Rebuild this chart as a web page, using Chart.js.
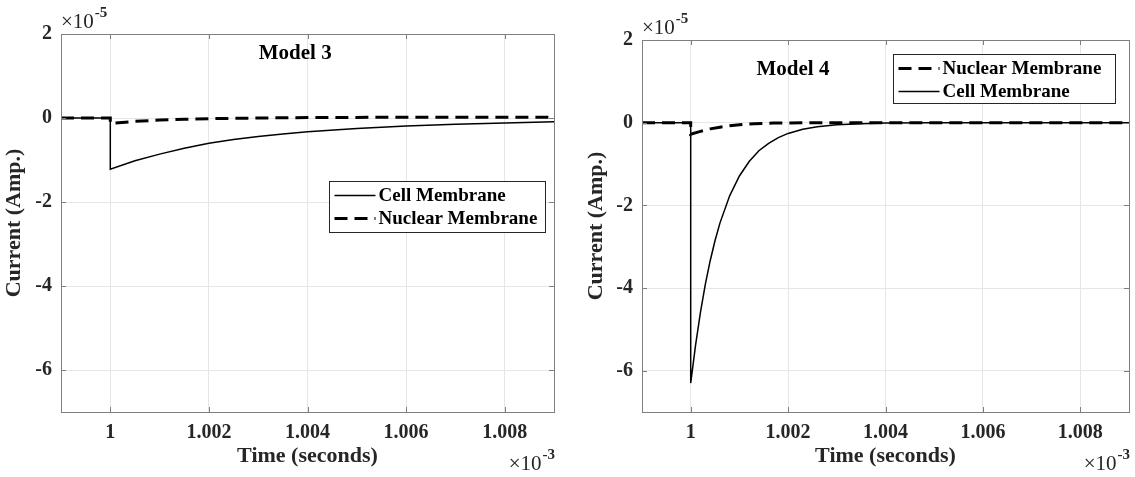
<!DOCTYPE html>
<html>
<head>
<meta charset="utf-8">
<script src="https://cdn.jsdelivr.net/npm/chart.js@4.4.1/dist/chart.umd.min.js"></script>
<style>
    html, body { margin: 0; padding: 0; background: #ffffff; }
    #wrap { position: relative; width: 1135px; height: 477px; overflow: hidden; }
    .pane { position: absolute; top: 0; height: 477px; }
    #left { left: 0; width: 567px; }
    #right { left: 567px; width: 568px; }
</style>
</head>
<body>
<div id="wrap">
    <div class="pane" id="left"><canvas id="model3" width="567" height="477"></canvas></div>
    <div class="pane" id="right"><canvas id="model4" width="568" height="477"></canvas></div>
</div>
<script>
// time axis in units of 1e-3 s, current in units of 1e-5 A
const xTicks = [1, 1.002, 1.004, 1.006, 1.008];
const xTickLabels = ['1', '1.002', '1.004', '1.006', '1.008'];
const yTicks = [2, 0, -2, -4, -6];
const yTickLabels = ['2', '0', '-2', '-4', '-6'];

// Model 3
const m3CellTime = [0.999, 1.0, 1.0, 1.0005, 1.001, 1.0015, 1.002, 1.0025, 1.003, 1.0035, 1.004, 1.005, 1.006, 1.007, 1.008, 1.009];
const m3CellCurrent = [0, 0, -1.22, -1.02, -0.86, -0.72, -0.60, -0.51, -0.44, -0.38, -0.33, -0.25, -0.19, -0.15, -0.12, -0.09];
const m3NucTime = [0.999, 1.0, 1.0, 1.0005, 1.001, 1.0015, 1.002, 1.003, 1.004, 1.006, 1.009];
const m3NucCurrent = [0, 0, -0.13, -0.08, -0.05, -0.03, -0.015, 0, 0.01, 0.02, 0.02];

// Model 4
const m4CellTime = [0.999, 1.0, 1.0, 1.0001, 1.0002, 1.0003, 1.0004, 1.0005, 1.0006, 1.0008, 1.001, 1.0012, 1.0014, 1.0016, 1.0018, 1.002, 1.0023, 1.0026, 1.003, 1.0035, 1.004, 1.005, 1.009];
const m4CellCurrent = [0, 0, -6.30, -5.38, -4.59, -3.91, -3.34, -2.85, -2.43, -1.77, -1.29, -0.94, -0.68, -0.50, -0.36, -0.26, -0.16, -0.10, -0.05, -0.025, -0.01, 0, 0];
const m4NucTime = [0.999, 1.0, 1.0, 1.0002, 1.0004, 1.0006, 1.0008, 1.001, 1.0013, 1.0017, 1.0025, 1.009];
const m4NucCurrent = [0, 0, -0.28, -0.21, -0.15, -0.11, -0.075, -0.05, -0.025, -0.01, 0, 0];

const FONT = '"Liberation Serif", "Times New Roman", serif';
Chart.defaults.font.family = FONT;

function toPoints(xs, ys) {
    return xs.map((x, i) => ({ x: x, y: ys[i] }));
}

function cellSet(xs, ys) {
    return {
        label: 'Cell Membrane',
        data: toPoints(xs, ys),
        borderColor: '#000000',
        borderWidth: 1.5,
        pointRadius: 0,
        tension: 0
    };
}

function nucSet(xs, ys) {
    return {
        label: 'Nuclear Membrane',
        data: toPoints(xs, ys),
        borderColor: '#000000',
        borderWidth: 3,
        borderDash: [13, 7],
        pointRadius: 0,
        tension: 0
    };
}

function drawExponent(ctx, x, y, exp, align) {
    const base = '\u00d710';
    ctx.font = '21px ' + FONT;
    const wb = ctx.measureText(base).width;
    ctx.font = 'bold 15px ' + FONT;
    const we = ctx.measureText(exp).width;
    let start = align === 'right' ? x - wb - we : x;
    ctx.textAlign = 'left';
    ctx.textBaseline = 'alphabetic';
    ctx.font = '21px ' + FONT;
    ctx.fillText(base, start, y);
    ctx.font = 'bold 15px ' + FONT;
    ctx.fillText(exp, start + wb + 1, y - 11);
}

// box, inward ticks, in-plot title, exponents and legend
const decorPlugin = {
    id: 'decor',
    afterDraw(chart, args, opts) {
        const { ctx, chartArea: a } = chart;
        const xs = chart.scales.x, ys = chart.scales.y;
        ctx.save();

        ctx.strokeStyle = '#7f7f7f';
        ctx.lineWidth = 1;
        ctx.strokeRect(Math.round(a.left) + 0.5, Math.round(a.top) + 0.5,
            Math.round(a.right - a.left), Math.round(a.bottom - a.top));

        ctx.beginPath();
        xTicks.forEach(v => {
            const px = Math.round(xs.getPixelForValue(v)) + 0.5;
            ctx.moveTo(px, a.bottom); ctx.lineTo(px, a.bottom - 5);
            ctx.moveTo(px, a.top); ctx.lineTo(px, a.top + 5);
        });
        yTicks.forEach(v => {
            const py = Math.round(ys.getPixelForValue(v)) + 0.5;
            ctx.moveTo(a.left, py); ctx.lineTo(a.left + 5, py);
            ctx.moveTo(a.right, py); ctx.lineTo(a.right - 5, py);
        });
        ctx.stroke();

        ctx.fillStyle = '#000000';
        ctx.font = 'bold 21px ' + FONT;
        ctx.textAlign = 'center';
        ctx.textBaseline = 'middle';
        ctx.fillText(opts.title, a.left + opts.titleX * (a.right - a.left), a.top + opts.titleY);

        ctx.fillStyle = '#262626';
        drawExponent(ctx, a.left, a.top - 6, '-5', 'left');
        drawExponent(ctx, a.right, 470, '-3', 'right');

        // legend
        const bw = opts.legendW, bh = opts.legendH;
        const bx = Math.round(a.right - opts.legendRight - bw) + 0.5;
        const by = Math.round(a.top + opts.legendTop) + 0.5;
        ctx.fillStyle = '#ffffff';
        ctx.fillRect(bx, by, bw, bh);
        ctx.strokeStyle = '#262626';
        ctx.lineWidth = 1;
        ctx.strokeRect(bx, by, bw, bh);
        chart.data.datasets.forEach((ds, i) => {
            const ry = by + 14 + i * 23;
            ctx.beginPath();
            ctx.strokeStyle = '#000000';
            ctx.lineWidth = ds.borderWidth;
            ctx.setLineDash(ds.borderDash || []);
            ctx.moveTo(bx + 5, ry);
            ctx.lineTo(bx + 46, ry);
            ctx.stroke();
            ctx.setLineDash([]);
            ctx.fillStyle = '#000000';
            ctx.font = 'bold 19px ' + FONT;
            ctx.textAlign = 'left';
            ctx.textBaseline = 'middle';
            ctx.fillText(ds.label, bx + 49, ry + 1);
        });

        ctx.restore();
    }
};

function makeOptions(cfg) {
    return {
        responsive: false,
        animation: false,
        layout: { padding: { top: cfg.top, right: cfg.right, left: 0, bottom: 0 } },
        plugins: {
            legend: { display: false },
            tooltip: { enabled: false },
            decor: cfg.decor
        },
        scales: {
            x: {
                type: 'linear',
                min: 0.999,
                max: 1.009,
                afterBuildTicks: s => { s.ticks = xTicks.map(v => ({ value: v })); },
                afterFit: s => { s.height = 65; },
                ticks: {
                    callback: (v, i) => xTickLabels[i],
                    color: '#262626',
                    font: { size: 20, weight: 'bold' },
                    maxRotation: 0,
                    padding: 9
                },
                grid: { color: '#e6e6e6', drawTicks: false },
                border: { color: '#7f7f7f' },
                title: {
                    display: true,
                    text: 'Time (seconds)',
                    color: '#262626',
                    font: { size: 22, weight: 'bold' },
                    padding: { top: 0, bottom: 7 }
                }
            },
            y: {
                type: 'linear',
                min: -7,
                max: 2,
                afterBuildTicks: s => { s.ticks = yTicks.map(v => ({ value: v })); },
                afterFit: s => { s.width = cfg.yWidth; },
                ticks: {
                    callback: (v, i) => yTickLabels[i],
                    color: '#262626',
                    font: { size: 20, weight: 'bold' },
                    padding: 9
                },
                grid: { color: '#e6e6e6', drawTicks: false },
                border: { color: '#7f7f7f' },
                title: {
                    display: true,
                    text: 'Current (Amp.)',
                    color: '#262626',
                    font: { size: 22, weight: 'bold' },
                    padding: { top: cfg.yTitlePad, bottom: 0 }
                }
            }
        }
    };
}

new Chart(document.getElementById('model3'), {
    type: 'line',
    data: {
        datasets: [cellSet(m3CellTime, m3CellCurrent), nucSet(m3NucTime, m3NucCurrent)]
    },
    options: makeOptions({
        top: 34, right: 13, yWidth: 61, yTitlePad: 1,
        decor: { title: 'Model 3', titleX: 0.475, titleY: 20,
                 legendW: 216, legendH: 51, legendRight: 9, legendTop: 147 }
    }),
    plugins: [decorPlugin]
});

new Chart(document.getElementById('model4'), {
    type: 'line',
    data: {
        datasets: [nucSet(m4NucTime, m4NucCurrent), cellSet(m4CellTime, m4CellCurrent)]
    },
    options: makeOptions({
        top: 40, right: 6, yWidth: 75, yTitlePad: 16,
        decor: { title: 'Model 4', titleX: 0.31, titleY: 30,
                 legendW: 222, legendH: 49, legendRight: 14, legendTop: 14 }
    }),
    plugins: [decorPlugin]
});
</script>
</body>
</html>
